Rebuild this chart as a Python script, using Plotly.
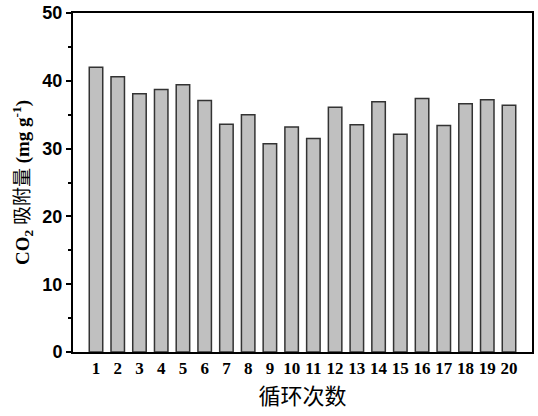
import plotly.graph_objects as go

cycles = list(range(1, 21))
uptake = [42.0, 40.6, 38.1, 38.7, 39.4, 37.1, 33.6, 35.0, 30.7, 33.2,
          31.5, 36.1, 33.5, 36.9, 32.1, 37.4, 33.4, 36.6, 37.2, 36.4]
tick_text = [str(c) for c in cycles]

serif = "Liberation Serif, Times New Roman, serif"
sans = "Liberation Sans, Arial, sans-serif"
cjk = "Noto Sans CJK SC"

fig = go.Figure(go.Bar(
    x=cycles,
    y=uptake,
    width=0.62,
    marker=dict(color="#c0c0c0", line=dict(color="#333333", width=1.5)),
))

fig.update_layout(
    width=538,
    height=416,
    margin=dict(l=73, r=6, t=13, b=64),
    plot_bgcolor="white",
    paper_bgcolor="white",
    showlegend=False,
    xaxis=dict(
        range=[-0.058, 21.058],
        tickvals=cycles,
        ticktext=tick_text,
        ticks="",
        automargin=False,
        showgrid=False,
        zeroline=False,
        showline=True,
        linecolor="black",
        linewidth=2,
        mirror=True,
        tickfont=dict(family=serif, size=17, color="black", weight="bold"),
        title=dict(text="循环次数", font=dict(family=cjk, size=22, color="black"),
                   standoff=6),
    ),
    yaxis=dict(
        range=[0, 50],
        tickvals=[0, 10, 20, 30, 40, 50],
        ticks="outside",
        ticklen=5,
        tickwidth=2,
        tickcolor="black",
        minor=dict(ticks="outside", tickvals=[5, 15, 25, 35, 45],
                   ticklen=3, tickwidth=1.5, tickcolor="black"),
        automargin=False,
        showgrid=False,
        zeroline=False,
        showline=True,
        linecolor="black",
        linewidth=2,
        mirror=True,
        tickfont=dict(family=sans, size=18, color="black", weight="bold"),
        title=dict(
            text="<b>CO<sub>2</sub></b> <span style='font-family:Noto Sans CJK SC;font-weight:normal'>吸附量</span> <b>(mg g<sup>-1</sup>)</b>",
            font=dict(family=serif, size=19, color="black"),
            standoff=8,
        ),
    ),
)

# drop the default page margin so the figure sits at the window corner
fig.write_html("out.html",
               config={"displayModeBar": False},
               post_script="document.body.style.margin='0';"
                           "document.body.style.overflow='hidden';")
